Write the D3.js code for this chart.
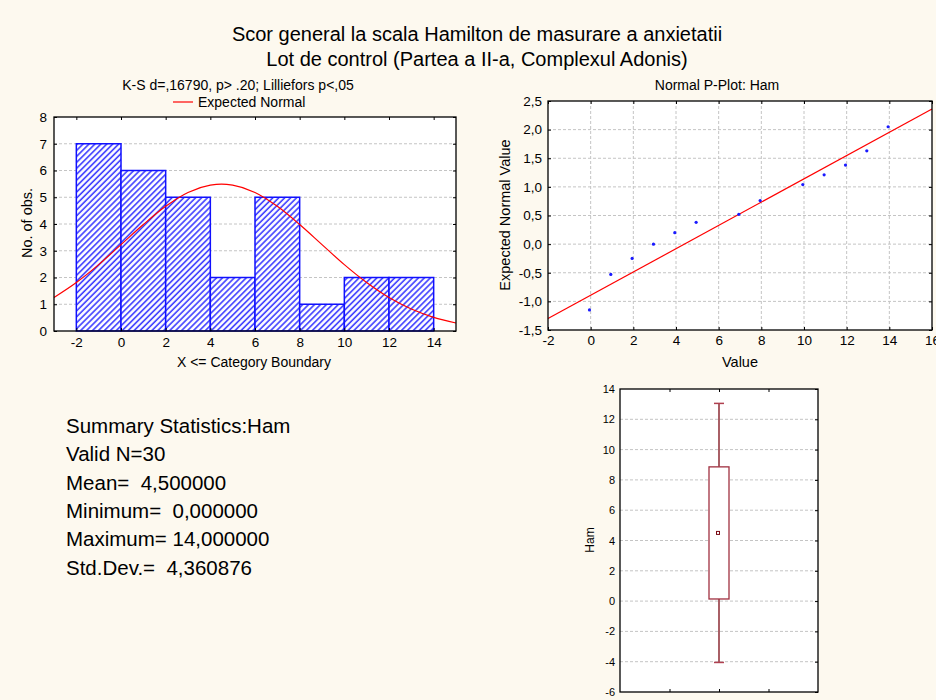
<!DOCTYPE html>
<html><head><meta charset="utf-8">
<script src="https://cdn.jsdelivr.net/npm/d3@7"></script>
<style>
html,body{margin:0;padding:0;background:#fdf9ef;}
svg{display:block;font-family:"Liberation Sans",Arial,sans-serif;}
</style></head>
<body>
<svg id="c" width="936" height="700"></svg>
<script>
// ---------- data ----------
const titleLines = ["Scor general la scala Hamilton de masurare a anxietatii",
                    "Lot de control (Partea a II-a, Complexul Adonis)"];
// histogram
const binStarts = [-2, 0, 2, 4, 6, 8, 10, 12];
const binWidth = 2;
const binCounts = [7, 6, 5, 2, 5, 1, 2, 2];
const histXTicks = [-2, 0, 2, 4, 6, 8, 10, 12, 14];
const histYTicks = [0, 1, 2, 3, 4, 5, 6, 7, 8];
// expected normal curve
const curveX = [-3, -2, -1, 0, 1, 2, 3, 4, 4.5, 5, 6, 7, 8, 9, 10, 11, 12, 13, 14, 15];
const curveY = [1.25, 1.81, 2.48, 3.23, 3.98, 4.66, 5.18, 5.45, 5.49, 5.45, 5.18, 4.66, 3.98, 3.23, 2.48, 1.81, 1.25, 0.82, 0.51, 0.30];
// normal probability plot
const ppValue = [0, 1, 2, 3, 4, 5, 7, 8, 10, 11, 12, 13, 14];
const ppExpected = [-1.15, -0.53, -0.25, 0.0, 0.2, 0.38, 0.52, 0.76, 1.04, 1.21, 1.38, 1.63, 2.05];
const ppLineX = [-2, 16];
const ppLineY = [-1.30, 2.36];
const ppXTicks = [-2, 0, 2, 4, 6, 8, 10, 12, 14, 16];
const ppYTicks = [-1.5, -1.0, -0.5, 0.0, 0.5, 1.0, 1.5, 2.0, 2.5];
// box plot (mean, mean±SD, mean±1.96SD)
const boxMean = [4.5];
const boxLow = [0.14];
const boxHigh = [8.86];
const whiskLow = [-4.05];
const whiskHigh = [13.05];
const boxYTicks = [-6, -4, -2, 0, 2, 4, 6, 8, 10, 12, 14];
// summary text
const summaryLines = ["Summary Statistics:Ham", "Valid N=30", "Mean=  4,500000",
                      "Minimum=  0,000000", "Maximum= 14,000000", "Std.Dev.=  4,360876"];

// ---------- drawing ----------
const svg = d3.select("#c");
const fmtInt = d => String(d).replace("\u2212", "-");
const fmt1 = d => d3.format(".1f")(d).replace("\u2212", "-").replace(".", ",");
const GRID = "#c4c4c4";

const defs = svg.append("defs");
const pat = defs.append("pattern").attr("id", "hatch").attr("patternUnits", "userSpaceOnUse")
  .attr("width", 4.2).attr("height", 4.2).attr("patternTransform", "rotate(45)");
pat.append("rect").attr("width", 4.2).attr("height", 4.2).attr("fill", "#ffffff");
pat.append("line").attr("x1", 1).attr("x2", 1).attr("y1", 0).attr("y2", 4.2)
  .attr("stroke", "#3a3aff").attr("stroke-width", 1.6);

// titles
svg.selectAll("text.title").data(titleLines).enter().append("text")
  .attr("x", 477).attr("y", (d, i) => 41 + i * 25).attr("text-anchor", "middle")
  .attr("font-size", 20).attr("fill", "#000").text(d => d);

function styleAxis(g, size) {
  g.selectAll(".domain").remove();
  g.selectAll(".tick line").attr("stroke", "#000");
  g.selectAll(".tick text").attr("font-size", size).attr("fill", "#000")
    .attr("font-family", "Liberation Sans, Arial, sans-serif");
}

// ===== Histogram =====
{
  const x = d3.scaleLinear().domain([-3, 15]).range([54, 456]);
  const y = d3.scaleLinear().domain([0, 8]).range([331, 117]);
  const g = svg.append("g");
  g.append("rect").attr("x", 54).attr("y", 117).attr("width", 402).attr("height", 214).attr("fill", "#fff");
  g.selectAll("line.grid").data(histYTicks.slice(1, -1)).enter().append("line")
    .attr("x1", 54).attr("x2", 456).attr("y1", d => y(d)).attr("y2", d => y(d))
    .attr("stroke", GRID).attr("stroke-dasharray", "3,2");
  g.selectAll("rect.bar").data(binStarts).enter().append("rect")
    .attr("x", d => x(d)).attr("width", d => x(d + binWidth) - x(d))
    .attr("y", (d, i) => y(binCounts[i])).attr("height", (d, i) => y(0) - y(binCounts[i]))
    .attr("fill", "url(#hatch)").attr("stroke", "#1010ff").attr("stroke-width", 1.5);
  const line = d3.line().x((d, i) => x(curveX[i])).y(d => y(d)).curve(d3.curveMonotoneX);
  g.append("path").datum(curveY).attr("d", line).attr("fill", "none").attr("stroke", "#ff0000").attr("stroke-width", 1.2);
  g.append("rect").attr("x", 54).attr("y", 117).attr("width", 402).attr("height", 214)
    .attr("fill", "none").attr("stroke", "#000").attr("stroke-width", 1.3);
  const xa = g.append("g").attr("transform", "translate(0,331)")
    .call(d3.axisBottom(x).tickValues(histXTicks).tickFormat(fmtInt).tickSizeInner(-3).tickSizeOuter(0).tickPadding(6));
  styleAxis(xa, 13.5);
  const xt = g.append("g").attr("transform", "translate(0,117)")
    .call(d3.axisTop(x).tickValues(histXTicks).tickFormat("").tickSizeInner(-3).tickSizeOuter(0));
  styleAxis(xt, 12);
  const ya = g.append("g").attr("transform", "translate(54,0)")
    .call(d3.axisLeft(y).tickValues(histYTicks).tickFormat(fmtInt).tickSizeInner(-3).tickSizeOuter(0).tickPadding(7));
  styleAxis(ya, 13.5);
  const yr = g.append("g").attr("transform", "translate(456,0)")
    .call(d3.axisRight(y).tickValues(histYTicks).tickFormat("").tickSizeInner(-3).tickSizeOuter(0));
  styleAxis(yr, 12);
  g.append("text").attr("x", 238).attr("y", 90).attr("text-anchor", "middle").attr("font-size", 14)
    .text("K-S d=,16790, p> .20; Lilliefors p<,05");
  g.append("line").attr("x1", 173).attr("x2", 193).attr("y1", 102).attr("y2", 102).attr("stroke", "#ff0000").attr("stroke-width", 1.2);
  g.append("text").attr("x", 198).attr("y", 107).attr("font-size", 14).text("Expected Normal");
  g.append("text").attr("x", 254).attr("y", 367).attr("text-anchor", "middle").attr("font-size", 14)
    .text("X <= Category Boundary");
  g.append("text").attr("transform", "translate(32,223) rotate(-90)").attr("text-anchor", "middle")
    .attr("font-size", 14.5).text("No. of obs.");
}

// ===== Normal P-Plot =====
{
  const x = d3.scaleLinear().domain([-2, 16]).range([548, 932]);
  const y = d3.scaleLinear().domain([-1.5, 2.5]).range([330, 101]);
  const g = svg.append("g");
  g.append("rect").attr("x", 548).attr("y", 101).attr("width", 384).attr("height", 229).attr("fill", "#fff");
  g.selectAll("line.gh").data(ppYTicks.slice(1, -1)).enter().append("line")
    .attr("x1", 548).attr("x2", 932).attr("y1", d => y(d)).attr("y2", d => y(d))
    .attr("stroke", GRID).attr("stroke-dasharray", "3,2");
  g.selectAll("line.gv").data(ppXTicks.slice(1, -1)).enter().append("line")
    .attr("y1", 101).attr("y2", 330).attr("x1", d => x(d)).attr("x2", d => x(d))
    .attr("stroke", GRID).attr("stroke-dasharray", "3,2");
  g.append("line").attr("x1", x(ppLineX[0])).attr("x2", x(ppLineX[1]))
    .attr("y1", y(ppLineY[0])).attr("y2", y(ppLineY[1])).attr("stroke", "#ff0000").attr("stroke-width", 1.2);
  g.selectAll("circle").data(ppValue).enter().append("circle")
    .attr("cx", d => x(d) - 1.2).attr("cy", (d, i) => y(ppExpected[i])).attr("r", 1.6).attr("fill", "#1a1aff");
  g.append("rect").attr("x", 548).attr("y", 101).attr("width", 384).attr("height", 229)
    .attr("fill", "none").attr("stroke", "#000").attr("stroke-width", 1.3);
  const xa = g.append("g").attr("transform", "translate(0,330)")
    .call(d3.axisBottom(x).tickValues(ppXTicks).tickFormat(fmtInt).tickSizeInner(-3).tickSizeOuter(0).tickPadding(5));
  styleAxis(xa, 13.5);
  const xt = g.append("g").attr("transform", "translate(0,101)")
    .call(d3.axisTop(x).tickValues(ppXTicks).tickFormat("").tickSizeInner(-3).tickSizeOuter(0));
  styleAxis(xt, 12);
  const ya = g.append("g").attr("transform", "translate(548,0)")
    .call(d3.axisLeft(y).tickValues(ppYTicks).tickFormat(fmt1).tickSizeInner(-3).tickSizeOuter(0).tickPadding(6));
  styleAxis(ya, 13.5);
  const yr = g.append("g").attr("transform", "translate(932,0)")
    .call(d3.axisRight(y).tickValues(ppYTicks).tickFormat("").tickSizeInner(-3).tickSizeOuter(0));
  styleAxis(yr, 12);
  g.append("text").attr("x", 717).attr("y", 90).attr("text-anchor", "middle").attr("font-size", 14)
    .text("Normal P-Plot: Ham");
  g.append("text").attr("x", 740).attr("y", 367).attr("text-anchor", "middle").attr("font-size", 14.5).text("Value");
  g.append("text").attr("transform", "translate(510,215) rotate(-90)").attr("text-anchor", "middle")
    .attr("font-size", 14.5).text("Expected Normal Value");
}

// ===== Box plot =====
{
  const x = d3.scaleLinear().domain([0, 4]).range([620, 818]);
  const y = d3.scaleLinear().domain([-6, 14]).range([692, 389]);
  const g = svg.append("g");
  const cx = x(2);
  g.append("rect").attr("x", 620).attr("y", 389).attr("width", 198).attr("height", 303).attr("fill", "#fff");
  g.selectAll("line.gh").data(boxYTicks.slice(1, -1)).enter().append("line")
    .attr("x1", 620).attr("x2", 818).attr("y1", d => y(d)).attr("y2", d => y(d))
    .attr("stroke", GRID).attr("stroke-dasharray", "3,2");
  const BC = "#7a0a14";
  g.append("line").attr("x1", cx).attr("x2", cx).attr("y1", y(whiskHigh[0])).attr("y2", y(boxHigh[0])).attr("stroke", BC).attr("stroke-width", 1.3);
  g.append("line").attr("x1", cx).attr("x2", cx).attr("y1", y(boxLow[0])).attr("y2", y(whiskLow[0])).attr("stroke", BC).attr("stroke-width", 1.3);
  g.selectAll("line.cap").data([whiskHigh[0], whiskLow[0]]).enter().append("line")
    .attr("x1", cx - 5).attr("x2", cx + 5).attr("y1", d => y(d)).attr("y2", d => y(d)).attr("stroke", "#b04050").attr("stroke-width", 1.5);
  g.append("rect").attr("x", cx - 10).attr("width", 20).attr("y", y(boxHigh[0])).attr("height", y(boxLow[0]) - y(boxHigh[0]))
    .attr("fill", "#fff").attr("stroke", "#a03040").attr("stroke-width", 1.3);
  g.append("rect").attr("x", cx - 2.5).attr("width", 3).attr("y", y(boxMean[0]) - 1.5).attr("height", 3)
    .attr("fill", "#fff").attr("stroke", BC).attr("stroke-width", 1);
  g.append("rect").attr("x", 620).attr("y", 389).attr("width", 198).attr("height", 303)
    .attr("fill", "none").attr("stroke", "#000").attr("stroke-width", 1.3);
  const xa = g.append("g").attr("transform", "translate(0,692)")
    .call(d3.axisBottom(x).tickValues([1, 2, 3]).tickFormat("").tickSizeInner(-3).tickSizeOuter(0));
  styleAxis(xa, 10);
  const xt = g.append("g").attr("transform", "translate(0,389)")
    .call(d3.axisTop(x).tickValues([1, 2, 3]).tickFormat("").tickSizeInner(-3).tickSizeOuter(0));
  styleAxis(xt, 10);
  const ya = g.append("g").attr("transform", "translate(620,0)")
    .call(d3.axisLeft(y).tickValues(boxYTicks).tickFormat(fmtInt).tickSizeInner(0).tickSizeOuter(0).tickPadding(5));
  styleAxis(ya, 11);
  const yr = g.append("g").attr("transform", "translate(818,0)")
    .call(d3.axisRight(y).tickValues(boxYTicks).tickFormat("").tickSizeInner(-3).tickSizeOuter(0));
  styleAxis(yr, 10);
  g.append("text").attr("transform", "translate(594,540) rotate(-90)").attr("text-anchor", "middle")
    .attr("font-size", 12).text("Ham");
}

// ===== Summary =====
svg.selectAll("text.sum").data(summaryLines).enter().append("text")
  .attr("x", 66).attr("y", (d, i) => 433 + i * 28.3).attr("font-size", 20.5).attr("fill", "#000")
  .attr("xml:space", "preserve").style("white-space", "pre").text(d => d);
</script>
</body></html>
